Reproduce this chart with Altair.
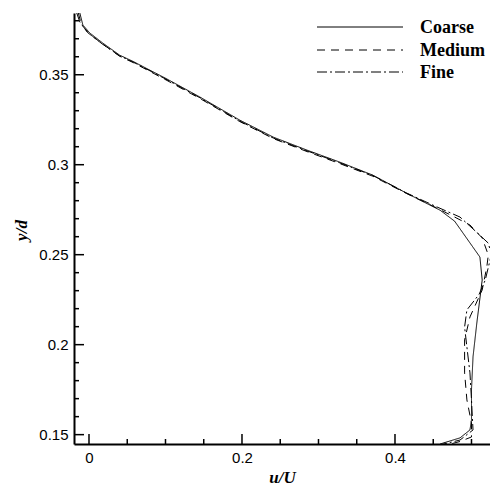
import altair as alt
import pandas as pd

# ---------------- data ----------------
series = ["Coarse", "Medium", "Fine"]

coarse_u = [-0.012, -0.008, 0.001, 0.018, 0.040, 0.058, 0.102, 0.145, 0.197, 0.241, 0.285,
            0.328, 0.371, 0.415, 0.459, 0.478, 0.511, 0.514, 0.507, 0.502, 0.500, 0.500,
            0.498, 0.485, 0.459]
coarse_y = [0.3843, 0.3776, 0.3732, 0.3676, 0.3609, 0.3573, 0.3476, 0.3376, 0.3248, 0.3153,
            0.3081, 0.3014, 0.2942, 0.2842, 0.2747, 0.2686, 0.2487, 0.2359, 0.2121, 0.1932,
            0.1749, 0.1582, 0.1526, 0.1482, 0.1448]

medium_u = [-0.014, -0.010, 0.000, 0.018, 0.040, 0.058, 0.102, 0.145, 0.197, 0.241, 0.285,
            0.328, 0.371, 0.415, 0.452, 0.478, 0.498, 0.514, 0.522, 0.520, 0.514, 0.498,
            0.491, 0.491, 0.494, 0.500, 0.500, 0.485, 0.468]
medium_y = [0.3843, 0.3780, 0.3728, 0.3670, 0.3603, 0.3567, 0.3468, 0.3368, 0.3240, 0.3145,
            0.3073, 0.3006, 0.2936, 0.2840, 0.2765, 0.2709, 0.2665, 0.2593, 0.2498, 0.2431,
            0.2304, 0.2154, 0.2026, 0.1843, 0.1693, 0.1565, 0.1487, 0.1462, 0.1443]

fine_u = [-0.016, -0.012, -0.002, 0.017, 0.040, 0.058, 0.102, 0.145, 0.197, 0.241, 0.285,
          0.328, 0.371, 0.415, 0.455, 0.485, 0.508, 0.522, 0.526, 0.518, 0.510, 0.494,
          0.491, 0.494, 0.498, 0.500, 0.502, 0.485, 0.462]
fine_y = [0.3843, 0.3793, 0.3735, 0.3672, 0.3605, 0.3570, 0.3472, 0.3372, 0.3243, 0.3148,
          0.3077, 0.3010, 0.2940, 0.2843, 0.2765, 0.2709, 0.2620, 0.2564, 0.2500, 0.2359,
          0.2280, 0.2193, 0.2098, 0.1987, 0.1843, 0.1693, 0.1526, 0.1470, 0.1446]

x_major = [0, 0.2, 0.4]
x_minor = [0.05, 0.1, 0.15, 0.25, 0.3, 0.35, 0.45, 0.5]
y_major = [0.15, 0.2, 0.25, 0.3, 0.35]
y_minor = [0.16, 0.17, 0.18, 0.19, 0.21, 0.22, 0.23, 0.24, 0.26, 0.27, 0.28, 0.29,
           0.31, 0.32, 0.33, 0.34, 0.36, 0.37, 0.38]

x_domain = [-0.0196, 0.5242]
y_domain = [0.1448, 0.3843]

# ---------------- build table ----------------
rows = []
for name, us, ys in [("Coarse", coarse_u, coarse_y),
                     ("Medium", medium_u, medium_y),
                     ("Fine", fine_u, fine_y)]:
    for i, (u, y) in enumerate(zip(us, ys)):
        rows.append({"series": name, "u": u, "y": y, "idx": i})
df = pd.DataFrame(rows)

W, H = 416, 431
dashes = [[1, 0], [8, 6], [10, 3, 2, 3]]

xscale = alt.Scale(domain=x_domain, nice=False, zero=False)
yscale = alt.Scale(domain=y_domain, nice=False, zero=False)

x_axis = alt.Axis(
    values=x_major, format="~g", ticks=False, grid=False,
    domainColor="black", domainWidth=2,
    labelFont="Liberation Sans", labelFontSize=15, labelColor="black", labelPadding=6,
    title="u/U", titleFont="Liberation Serif", titleFontWeight="bold",
    titleFontStyle="italic", titleFontSize=17, titleColor="black",
    titleX=W / 2, titleY=33, titleAlign="center", titleBaseline="middle")
y_axis = alt.Axis(
    values=y_major, format="~g", ticks=False, grid=False,
    domainColor="black", domainWidth=2,
    labelFont="Liberation Sans", labelFontSize=15, labelColor="black", labelPadding=6,
    title="y/d", titleFont="Liberation Serif", titleFontWeight="bold",
    titleFontStyle="italic", titleFontSize=17, titleColor="black",
    titleX=-53, titleY=217, titleAlign="center", titleBaseline="middle", titleAngle=270)

lines = alt.Chart(df).mark_line(strokeWidth=1, clip=True, color="black").encode(
    x=alt.X("u:Q", scale=xscale, axis=x_axis),
    y=alt.Y("y:Q", scale=yscale, axis=y_axis),
    strokeDash=alt.StrokeDash("series:N", scale=alt.Scale(domain=series, range=dashes), legend=None),
    order=alt.Order("idx:Q"),
)

layers = [lines]

# inward ticks (same field names so they share the axes above)
for vals, length in [(y_major, 10), (y_minor, 5)]:
    layers.append(alt.Chart(pd.DataFrame({"y": vals})).mark_rule(color="black", strokeWidth=1.5).encode(
        y=alt.Y("y:Q", scale=yscale, axis=y_axis),
        x=alt.value(0), x2=alt.value(length)))
for vals, length in [(x_major, 10), (x_minor, 5)]:
    layers.append(alt.Chart(pd.DataFrame({"u": vals})).mark_rule(color="black", strokeWidth=1.5).encode(
        x=alt.X("u:Q", scale=xscale, axis=x_axis),
        y=alt.value(H), y2=alt.value(H - length)))

# legend
row_y = [14, 37, 59]
for name, dash, ry in zip(series, dashes, row_y):
    ldf = pd.DataFrame({"series": [name]})
    layers.append(alt.Chart(ldf).mark_rule(color="black", strokeWidth=1).encode(
        x=alt.value(243), x2=alt.value(329), y=alt.value(ry), strokeDash=alt.value(dash)))
    layers.append(alt.Chart(ldf).mark_text(
        font="Liberation Serif", fontWeight="bold", fontSize=18, color="black",
        align="left", baseline="middle").encode(
        text="series:N", x=alt.value(346), y=alt.value(ry + 1)))

chart = alt.layer(*layers).properties(
    width=W, height=H,
    autosize=alt.AutoSizeParams(type="none"),
    padding={"left": 74, "top": 13, "right": 0, "bottom": 43},
).configure_view(stroke=None)

chart.save("out.html", embed_options={"renderer": "svg", "actions": False})
